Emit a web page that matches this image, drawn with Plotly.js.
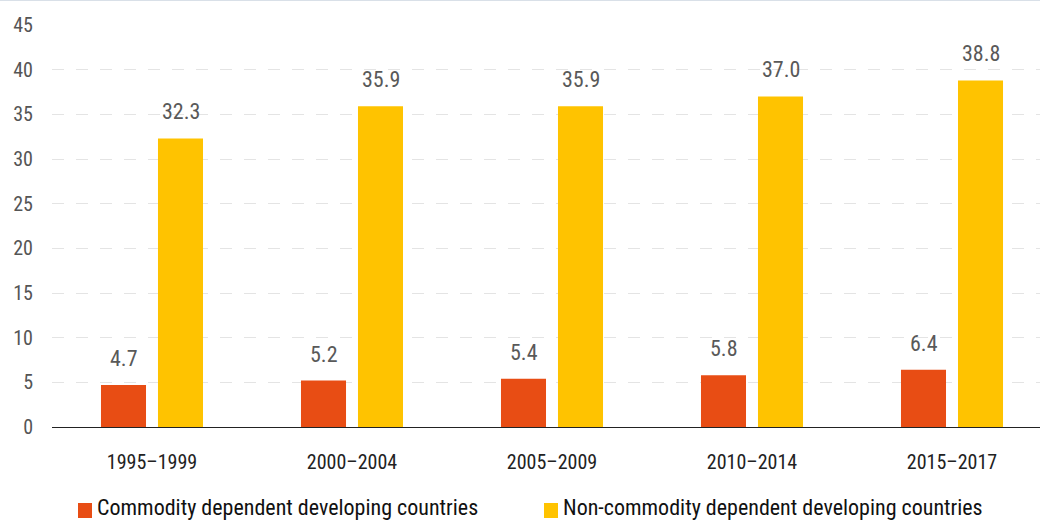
<!DOCTYPE html>
<html>
<head>
<meta charset="utf-8">
<script src="https://cdn.plot.ly/plotly-3.0.1.min.js"></script>
<style>
  html, body { margin: 0; padding: 0; background: #fff; overflow: hidden; }
  #chart { width: 1040px; height: 519px; border-top: 1px solid #d9e0e8; }
</style>
</head>
<body>
<div id="chart"></div>
<script>
// Periods on the category axis
const periods = ['1995–1999', '2000–2004', '2005–2009', '2010–2014', '2015–2017'];

// Values per country group
const commodityDependent = [4.7, 5.2, 5.4, 5.8, 6.4];
const nonCommodityDependent = [32.3, 35.9, 35.9, 37.0, 38.8];

const seriesNames = ['Commodity dependent developing countries', 'Non-commodity dependent developing countries'];
const seriesColors = ['#E84D14', '#FFC300'];

const yTicks = [0, 5, 10, 15, 20, 25, 30, 35, 40, 45];

const FONT = '"Roboto Condensed", "Liberation Sans Narrow", "Arial Narrow", "DejaVu Sans Condensed", sans-serif';

const traces = [commodityDependent, nonCommodityDependent].map((vals, i) => ({
  type: 'bar',
  name: seriesNames[i],
  x: periods,
  y: vals,
  marker: { color: seriesColors[i], line: { width: 0 } },
  showlegend: false,
  hoverinfo: 'skip'
}));

// Value labels above each bar, offset to sit over its own bar in the group
const slot = 57;
const annotations = [];
[commodityDependent, nonCommodityDependent].forEach((vals, i) => {
  vals.forEach((v, j) => {
    annotations.push({
      x: periods[j], y: v, xref: 'x', yref: 'y',
      text: v.toFixed(1),
      showarrow: false,
      xshift: (i === 0 ? -1 : 1) * slot / 2,
      yanchor: 'bottom',
      yshift: 12,
      font: { family: FONT, size: 22, color: '#595959' }
    });
  });
});

// Key below the plot: colour swatch + series name
const plotL = 52, plotW = 988, plotT = 25, plotH = 402;
const px = v => (v - plotL) / plotW;
const py = v => (plotT + plotH - v) / plotH;
const keyX = [78, 544];
const shapes = [];
seriesNames.forEach((name, i) => {
  shapes.push({
    type: 'rect', xref: 'paper', yref: 'paper',
    x0: px(keyX[i]), x1: px(keyX[i] + 14),
    y0: py(518), y1: py(503),
    fillcolor: seriesColors[i], line: { width: 0 }
  });
  annotations.push({
    xref: 'paper', yref: 'paper',
    x: px(keyX[i] + 17), y: py(507),
    xanchor: 'left', yanchor: 'middle',
    text: name, showarrow: false,
    font: { family: FONT, size: 22, color: '#111' }
  });
});

const layout = {
  width: 1040, height: 519,
  margin: { l: plotL, r: 0, t: plotT - 1, b: 519 - (plotT - 1) - plotH, pad: 0, autoexpand: false },
  paper_bgcolor: '#fff', plot_bgcolor: '#fff',
  barmode: 'group',
  bargap: 0.43,
  bargroupgap: 0.21,
  showlegend: false,
  xaxis: {
    type: 'category',
    range: [-0.5, 4.44],
    showgrid: false,
    showline: true, linecolor: '#222', linewidth: 1,
    ticks: '',
    tickfont: { family: FONT, size: 20, color: '#222' },
    ticklabelstandoff: 17,
    fixedrange: true
  },
  yaxis: {
    range: [0, 45],
    tickvals: yTicks,
    ticktext: yTicks.map(String),
    showgrid: true, gridcolor: '#e4e4e4', gridwidth: 1, griddash: '12px,12px',
    zeroline: false,
    showline: false,
    ticks: '',
    tickfont: { family: FONT, size: 20, color: '#555' },
    ticklabelstandoff: 18,
    fixedrange: true
  },
  shapes: shapes,
  annotations: annotations
};

Plotly.newPlot('chart', traces, layout, { displayModeBar: false, staticPlot: true });
</script>
</body>
</html>
